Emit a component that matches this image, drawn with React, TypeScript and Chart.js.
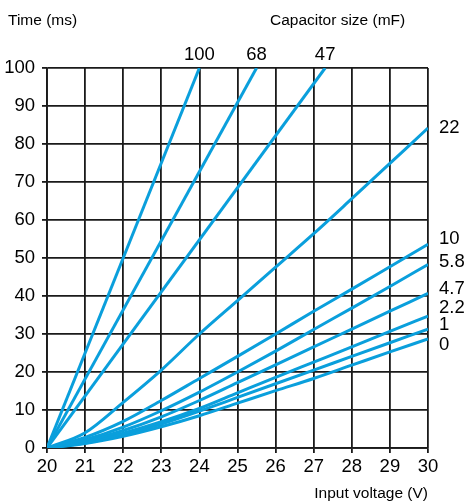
import React, { useEffect, useRef } from "react";
import { Chart, registerables } from "chart.js";

Chart.register(...registerables);

// ---- Data ----
const volts = [20, 21, 22, 23, 24, 25, 26, 27, 28, 29, 30];

// Steep capacitor lines (straight, from origin to where they hit 100 ms)
const steepNames = ["100", "68", "47"];
const steepVolts = [
  [20, 24],
  [20, 25.5],
  [20, 27.3],
];
const steepTimes = [0, 100];

// Curved capacitor lines sampled at each volt
const curveNames = ["22", "10", "5.8", "4.7", "2.2", "1", "0"];
const t22 = [0, 4, 12, 20.5, 30, 38.8, 47.6, 56.4, 65.6, 74.9, 84.2];
const t10 = [0, 2.8, 7, 12.5, 18.3, 24.1, 30, 36, 41.8, 47.7, 53.6];
const t5_8 = [0, 2.2, 5.5, 9.8, 14.7, 20, 25.5, 31.2, 36.8, 42.5, 48.3];
const t4_7 = [0, 1.8, 4.6, 8.2, 12.5, 17.2, 21.9, 26.6, 31.3, 36, 40.7];
const t2_2 = [0, 1.5, 3.9, 6.9, 10.4, 14.5, 18.6, 22.6, 26.6, 30.7, 34.7];
const t1 = [0, 1.3, 3.5, 6.3, 9.7, 13.3, 16.9, 20.5, 24.1, 27.7, 31.3];
const t0 = [0, 1.2, 3.1, 5.6, 8.5, 11.8, 15.1, 18.3, 21.8, 25.3, 28.7];
const curveTimes = [t22, t10, t5_8, t4_7, t2_2, t1, t0];

const xTitle = "Input voltage (V)";
const yTitle = "Time (ms)";
const legendTitle = "Capacitor size (mF)";

// ---- Styles ----
const FONT = "'Liberation Sans', Arial, Helvetica, sans-serif";
const LINE_COLOR = "#0a9fdc";
const GRID_COLOR = "#1a1a1a";
const TEXT_COLOR = "#000000";
const RIGHT_LABEL_OFFSETS = [0, -5, -2.7, -4.3, -8.6, -4.1, 6];

const labelsPlugin = {
  id: "labelsPlugin",
  afterDraw(chart: any) {
    const { ctx, chartArea } = chart;
    const xs = chart.scales.x;
    const ys = chart.scales.y;
    ctx.save();
    ctx.fillStyle = TEXT_COLOR;
    ctx.font = `15.5px ${FONT}`;
    ctx.textBaseline = "alphabetic";
    ctx.textAlign = "left";
    ctx.fillText(yTitle, 8, 25);
    ctx.fillText(legendTitle, 270, 25);
    ctx.textAlign = "right";
    ctx.fillText(xTitle, chartArea.right, 498);

    ctx.font = `18.5px ${FONT}`;
    ctx.textAlign = "center";
    steepNames.forEach((name, i) => {
      const v = steepVolts[i];
      const px = xs.getPixelForValue(v[v.length - 1]);
      ctx.fillText(name, px, chartArea.top - 8);
    });

    ctx.textAlign = "left";
    ctx.textBaseline = "middle";
    curveNames.forEach((name, i) => {
      const arr = curveTimes[i];
      const py = ys.getPixelForValue(arr[arr.length - 1]) + RIGHT_LABEL_OFFSETS[i];
      ctx.fillText(name, chartArea.right + 11, py);
    });
    ctx.restore();
  },
};

export default function App() {
  const ref = useRef<HTMLCanvasElement | null>(null);

  useEffect(() => {
    if (!ref.current) return;
    const datasets: any[] = [];
    steepNames.forEach((name, i) => {
      datasets.push({
        label: name,
        data: steepVolts[i].map((v, j) => ({ x: v, y: steepTimes[j] })),
        borderColor: LINE_COLOR,
        borderWidth: 3,
        pointRadius: 0,
        fill: false,
      });
    });
    curveNames.forEach((name, i) => {
      datasets.push({
        label: name,
        data: volts.map((v, j) => ({ x: v, y: curveTimes[i][j] })),
        borderColor: LINE_COLOR,
        borderWidth: 3,
        pointRadius: 0,
        fill: false,
        cubicInterpolationMode: "monotone",
      });
    });

    const chart = new Chart(ref.current, {
      type: "line",
      data: { datasets },
      options: {
        animation: false,
        responsive: false,
        devicePixelRatio: 1,
        layout: { padding: { top: 68, right: 41, left: 0, bottom: 0 } },
        plugins: { legend: { display: false }, tooltip: { enabled: false } },
        scales: {
          x: {
            type: "linear",
            min: 20,
            max: 30,
            afterFit(scale: any) {
              scale.height = 56;
            },
            ticks: {
              stepSize: 1,
              color: TEXT_COLOR,
              font: { family: FONT, size: 18.5 },
              padding: 3,
              maxRotation: 0,
            },
            grid: { color: GRID_COLOR, lineWidth: 1.8, tickLength: 5 },
            border: { display: true, color: GRID_COLOR, width: 1.8 },
          },
          y: {
            type: "linear",
            min: 0,
            max: 100,
            afterFit(scale: any) {
              scale.width = 47;
            },
            ticks: {
              stepSize: 10,
              color: TEXT_COLOR,
              font: { family: FONT, size: 18.5 },
              padding: 7,
            },
            grid: { color: GRID_COLOR, lineWidth: 1.8, tickLength: 5 },
            border: { display: true, color: GRID_COLOR, width: 1.8 },
          },
        },
      },
      plugins: [labelsPlugin],
    });
    return () => chart.destroy();
  }, []);

  return (
    <div style={{ position: "absolute", left: 0, top: 0, width: 469, height: 504, background: "#fff" }}>
      <canvas ref={ref} width={469} height={504} style={{ display: "block" }} />
    </div>
  );
}
